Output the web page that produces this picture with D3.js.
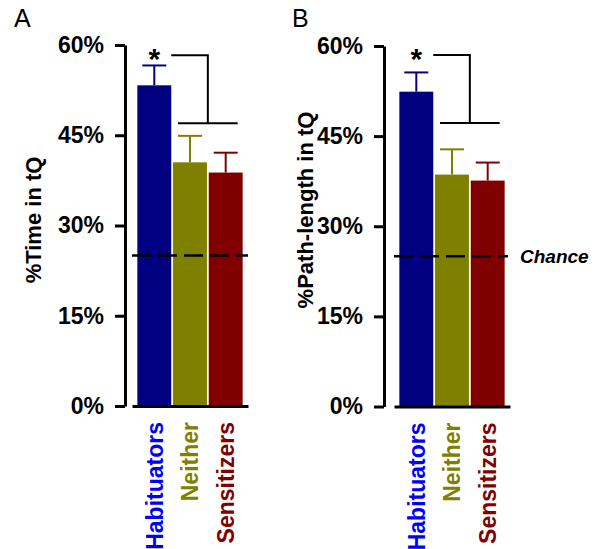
<!DOCTYPE html>
<html>
<head>
<meta charset="utf-8">
<script src="https://cdn.jsdelivr.net/npm/d3@7"></script>
<style>
  body { margin: 0; background: #fff; }
  svg { display: block; font-family: 'Liberation Sans', Arial, sans-serif; }
</style>
</head>
<body>
<div id="container"></div>
<script>
// groups and bar values (% in target quadrant)
const groups = ['Habituators', 'Neither', 'Sensitizers']
const timeMean = [53.3, 40.5, 38.8]
const timeErr = [3.3, 4.4, 3.3]
const pathMean = [52.4, 38.6, 37.6]
const pathErr = [3.2, 4.2, 3.0]
const yTicks = [0, 15, 30, 45, 60]
const chanceLevel = 25
const bracketTop = [58.3, 58.5]
const bracketLow = [47.0, 47.2]

const barColors = ['#000080', '#808000', '#800000']
const labelColors = ['#0000ff', '#808000', '#800000']

const w = 598
const h = 549

const svg = d3.select('#container')
  .append('svg')
  .attr('width', w)
  .attr('height', h)

function drawPanel(p) {
  const g = svg.append('g')

  const yScale = d3.scaleLinear()
    .domain([0, 60])
    .range([p.y0, p.y1])

  const xScale = d3.scaleBand()
    .domain(groups)
    .range([p.xl, p.xr])
    .paddingInner(0.05)
    .paddingOuter(0.15)
  const bw = xScale.bandwidth()

  // bars
  g.selectAll('.bar')
    .data(p.mean)
    .enter().append('rect')
    .attr('class', 'bar')
    .attr('x', (d, i) => xScale(groups[i]))
    .attr('y', d => yScale(d))
    .attr('width', bw)
    .attr('height', d => yScale(0) - yScale(d))
    .attr('fill', (d, i) => barColors[i])

  // error bars (upper only)
  const errG = g.selectAll('.err')
    .data(p.mean)
    .enter().append('g')
    .attr('class', 'err')
    .attr('stroke', (d, i) => barColors[i])
    .attr('stroke-width', 2)
  errG.append('line')
    .attr('x1', (d, i) => xScale(groups[i]) + bw / 2)
    .attr('x2', (d, i) => xScale(groups[i]) + bw / 2)
    .attr('y1', d => yScale(d))
    .attr('y2', (d, i) => yScale(d + p.err[i]))
  errG.append('line')
    .attr('x1', (d, i) => xScale(groups[i]) + bw / 2 - 12)
    .attr('x2', (d, i) => xScale(groups[i]) + bw / 2 + 12)
    .attr('y1', (d, i) => yScale(d + p.err[i]))
    .attr('y2', (d, i) => yScale(d + p.err[i]))

  // chance line
  g.append('line')
    .attr('x1', p.xl)
    .attr('x2', p.chanceEnd)
    .attr('y1', yScale(chanceLevel))
    .attr('y2', yScale(chanceLevel))
    .attr('stroke', '#000')
    .attr('stroke-width', 2.5)
    .attr('stroke-dasharray', '19,7')

  // y axis
  const yAxis = d3.axisLeft(yScale)
    .tickValues(yTicks)
    .tickFormat(d => d + '%')
    .tickSize(10)
    .tickSizeOuter(0)
    .tickPadding(11)
  const ya = g.append('g')
    .attr('transform', 'translate(' + p.ax + ',0)')
    .call(yAxis)
  ya.select('.domain').attr('stroke-width', 3)
  ya.selectAll('.tick line').attr('stroke-width', 3)
  ya.selectAll('.tick text')
    .attr('fill', '#000')
    .style('font-size', '23px')
    .style('font-weight', 'bold')
    .style('font-family', "'Liberation Sans', Arial, sans-serif")

  // x axis baseline
  const xa = g.append('g')
    .attr('transform', 'translate(0,' + yScale(0) + ')')
    .call(d3.axisBottom(xScale).tickValues([]).tickSizeOuter(0))
  xa.select('.domain').attr('stroke-width', 3)

  // category labels
  g.selectAll('.cat')
    .data(groups)
    .enter().append('text')
    .attr('class', 'cat')
    .attr('transform', d => 'translate(' + (xScale(d) + bw / 2) + ',' + (yScale(0) + 16) + ') rotate(-90)')
    .attr('dy', '0.36em')
    .attr('text-anchor', 'end')
    .attr('fill', (d, i) => labelColors[i])
    .style('font-size', '23px')
    .style('font-weight', 'bold')
    .text(d => d)

  // significance bracket
  const yt = yScale(bracketTop[p.k])
  const yl = yScale(bracketLow[p.k])
  const midX = (xScale(groups[1]) + xScale(groups[2]) + bw) / 2
  g.append('path')
    .attr('d', 'M' + (xScale(groups[0]) + bw) + ',' + yt + 'H' + midX + 'V' + yl)
    .attr('fill', 'none')
    .attr('stroke', '#000')
    .attr('stroke-width', 2)
  g.append('line')
    .attr('x1', xScale(groups[1]) + 5)
    .attr('x2', xScale(groups[2]) + bw - 5)
    .attr('y1', yl)
    .attr('y2', yl)
    .attr('stroke', '#000')
    .attr('stroke-width', 2)
  g.append('text')
    .attr('x', xScale(groups[0]) + bw / 2)
    .attr('y', yt + 14)
    .attr('text-anchor', 'middle')
    .style('font-size', '30px')
    .style('font-weight', 'bold')
    .text('*')

  // y label
  g.append('text')
    .attr('transform', 'translate(' + p.labX + ',' + p.labY + ') rotate(-90)')
    .attr('text-anchor', 'middle')
    .style('font-size', '22px')
    .style('font-weight', 'bold')
    .text(p.ylabel)

  // panel letter
  g.append('text')
    .attr('x', p.letterX)
    .attr('y', 27)
    .style('font-size', '25px')
    .text(p.letter)

  return { yScale: yScale }
}

drawPanel({
  k: 0, letter: 'A', letterX: 14,
  mean: timeMean, err: timeErr,
  ax: 125, xl: 132, xr: 248, chanceEnd: 248,
  y0: 406, y1: 45,
  ylabel: '%Time in tQ', labX: 41, labY: 220
})

const pB = drawPanel({
  k: 1, letter: 'B', letterX: 292,
  mean: pathMean, err: pathErr,
  ax: 384, xl: 394, xr: 510, chanceEnd: 508,
  y0: 406.5, y1: 46,
  ylabel: '%Path-length in tQ', labX: 313, labY: 210
})

svg.append('text')
  .attr('x', 520)
  .attr('y', pB.yScale(chanceLevel))
  .attr('dy', '0.36em')
  .style('font-size', '19px')
  .style('font-weight', 'bold')
  .style('font-style', 'italic')
  .text('Chance')
</script>
</body>
</html>
